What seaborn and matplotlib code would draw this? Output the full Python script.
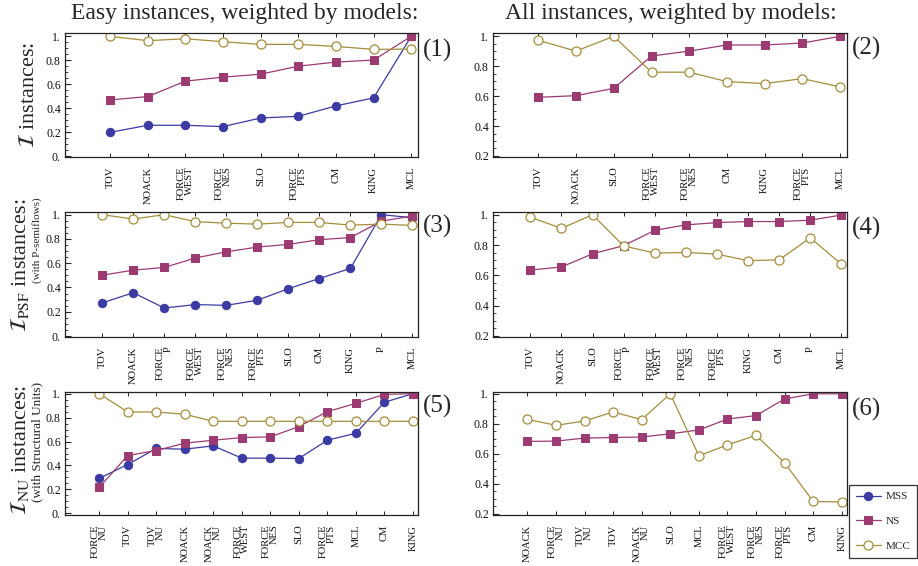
import numpy as np
import pandas as pd
import matplotlib
matplotlib.use('Agg')
import matplotlib.pyplot as plt
import seaborn as sns
from matplotlib.ticker import FixedLocator, FixedFormatter, MultipleLocator

# category order of every panel (as drawn on the x axis)
cats_1 = ['TOV', 'NOACK', 'FORCE\nWEST', 'FORCE\nNES', 'SLO', 'FORCE\nPTS', 'CM', 'KING', 'MCL']
cats_2 = ['TOV', 'NOACK', 'SLO', 'FORCE\nWEST', 'FORCE\nNES', 'CM', 'KING', 'FORCE\nPTS', 'MCL']
cats_3 = ['TOV', 'NOACK', 'FORCE\nP', 'FORCE\nWEST', 'FORCE\nNES', 'FORCE\nPTS', 'SLO', 'CM', 'KING', 'P', 'MCL']
cats_4 = ['TOV', 'NOACK', 'SLO', 'FORCE\nP', 'FORCE\nWEST', 'FORCE\nNES', 'FORCE\nPTS', 'KING', 'CM', 'P', 'MCL']
cats_5 = ['FORCE\nNU', 'TOV', 'TOV\nNU', 'NOACK', 'NOACK\nNU', 'FORCE\nWEST', 'FORCE\nNES', 'SLO',
          'FORCE\nPTS', 'MCL', 'CM', 'KING']
cats_6 = ['NOACK', 'FORCE\nNU', 'TOV\nNU', 'TOV', 'NOACK\nNU', 'SLO', 'MCL', 'FORCE\nWEST', 'FORCE\nNES',
          'FORCE\nPTS', 'CM', 'KING']

# panel 1: easy instances
mss_1 = [0.198, 0.257, 0.257, 0.246, 0.318, 0.332, 0.419, 0.486, 1.0]
ns_1 = [0.469, 0.497, 0.626, 0.659, 0.684, 0.751, 0.785, 0.802, 1.0]
mcc_1 = [1.0, 0.964, 0.98, 0.955, 0.933, 0.933, 0.916, 0.891, 0.894]

# panel 2: all instances (no MSS)
ns_2 = [0.592, 0.603, 0.652, 0.868, 0.901, 0.942, 0.942, 0.955, 1.0]
mcc_2 = [0.973, 0.901, 1.0, 0.76, 0.76, 0.697, 0.684, 0.717, 0.661]

# panel 3: easy PSF instances
mss_3 = [0.273, 0.357, 0.231, 0.259, 0.253, 0.295, 0.39, 0.474, 0.557, 1.0, 0.975]
ns_3 = [0.501, 0.543, 0.565, 0.643, 0.694, 0.733, 0.755, 0.794, 0.811, 0.947, 0.989]
mcc_3 = [1.0, 0.964, 1.0, 0.942, 0.93, 0.922, 0.936, 0.936, 0.914, 0.922, 0.911]

# panel 4: all PSF instances
ns_4 = [0.635, 0.655, 0.742, 0.796, 0.897, 0.933, 0.948, 0.955, 0.955, 0.964, 0.998]
mcc_4 = [0.984, 0.91, 1.0, 0.794, 0.747, 0.751, 0.74, 0.697, 0.702, 0.848, 0.673]

# panel 5: easy NU instances
mss_5 = [0.292, 0.408, 0.542, 0.536, 0.564, 0.461, 0.461, 0.458, 0.611, 0.669, 0.928, 1.0]
ns_5 = [0.217, 0.483, 0.525, 0.586, 0.611, 0.633, 0.639, 0.725, 0.85, 0.919, 0.994, 1.0]
mcc_5 = [1.0, 0.847, 0.847, 0.828, 0.769, 0.769, 0.769, 0.769, 0.769, 0.769, 0.769, 0.769]

# panel 6: all NU instances
ns_6 = [0.683, 0.685, 0.705, 0.709, 0.712, 0.734, 0.759, 0.832, 0.855, 0.966, 1.0, 1.0]
mcc_6 = [0.83, 0.79, 0.819, 0.879, 0.828, 1.0, 0.587, 0.66, 0.723, 0.54, 0.283, 0.28]

ticks_full = [0.0, 0.2, 0.4, 0.6, 0.8, 1.0]
ticklabels_full = ['0.', '0.2', '0.4', '0.6', '0.8', '1.']
ticks_part = [0.2, 0.4, 0.6, 0.8, 1.0]
ticklabels_part = ['0.2', '0.4', '0.6', '0.8', '1.']

sns.set_style('ticks')
plt.rcParams['font.family'] = ['Liberation Serif', 'DejaVu Serif']
plt.rcParams['mathtext.fontset'] = 'stix'

colors = {'MSS': '#3b3ba3', 'NS': '#9b3b72', 'MCC': '#a48e3c'}

W, H = 918, 566
fig = plt.figure(figsize=(W / 100, H / 100), dpi=100)


def box(l, r, t, b):
    return [l / W, 1 - b / H, (r - l) / W, (b - t) / H]


def draw_panel(rect, cats, series, ylim, yticks, yticklabels, tag, tag_y):
    ax = fig.add_axes(rect)
    x = np.arange(len(cats))
    for name, vals in series:
        df = pd.DataFrame({'x': x, 'y': vals})
        c = colors[name]
        if name == 'MSS':
            kw = dict(marker='o', markersize=6, markerfacecolor=c, markeredgecolor=c)
        elif name == 'NS':
            kw = dict(marker='s', markersize=5.5, markerfacecolor=c, markeredgecolor=c)
        else:
            kw = dict(marker='o', markersize=6.5, markerfacecolor='white', markeredgecolor=c,
                      markeredgewidth=0.9)
        sns.lineplot(data=df, x='x', y='y', color=c, linewidth=0.9, ax=ax, label=name, legend=False, **kw)
    ax.set_xlim(-1.2, len(cats) - 1 + 0.18)
    ax.set_ylim(*ylim)
    ax.set_xticks(x)
    ax.set_xticklabels(cats, rotation=90, fontsize=7.6, va='top', ha='center', color='#111111',
                       multialignment='right', linespacing=0.85)
    ax.yaxis.set_major_locator(FixedLocator(yticks))
    ax.yaxis.set_major_formatter(FixedFormatter(yticklabels))
    ax.yaxis.set_minor_locator(MultipleLocator(0.05))
    ax.tick_params(axis='y', which='major', direction='in', length=4, width=0.8, labelsize=8.5, pad=3,
                   labelcolor='#111111')
    ax.tick_params(axis='y', which='minor', direction='in', length=2, width=0.6)
    ax.tick_params(axis='x', direction='in', length=3, width=0.7, top=True, pad=7)
    ax.set_xlabel('')
    ax.set_ylabel('')
    for s in ax.spines.values():
        s.set_linewidth(0.9)
        s.set_color('#222222')
    fig.text((rect[0] + rect[2]) + 5 / W, 1 - tag_y / H, tag, fontsize=18, va='center', ha='left')
    return ax


ax1 = draw_panel(box(65, 418, 33, 157), cats_1, [('MSS', mss_1), ('NS', ns_1), ('MCC', mcc_1)],
                 (-0.008, 1.028), ticks_full, ticklabels_full, '(1)', 50)
ax2 = draw_panel(box(493, 847, 33, 157), cats_2, [('NS', ns_2), ('MCC', mcc_2)],
                 (0.193, 1.022), ticks_part, ticklabels_part, '(2)', 48)
ax3 = draw_panel(box(65, 418, 212, 337), cats_3, [('MSS', mss_3), ('NS', ns_3), ('MCC', mcc_3)],
                 (-0.008, 1.022), ticks_full, ticklabels_full, '(3)', 226)
ax4 = draw_panel(box(493, 847, 212, 337), cats_4, [('NS', ns_4), ('MCC', mcc_4)],
                 (0.193, 1.018), ticks_part, ticklabels_part, '(4)', 228)
ax5 = draw_panel(box(65, 418, 392, 515), cats_5, [('MSS', mss_5), ('NS', ns_5), ('MCC', mcc_5)],
                 (-0.014, 1.014), ticks_full, ticklabels_full, '(5)', 406)
ax6 = draw_panel(box(493, 847, 392, 515), cats_6, [('NS', ns_6), ('MCC', mcc_6)],
                 (0.193, 1.012), ticks_part, ticklabels_part, '(6)', 409)

# column titles
fig.text(245 / W, 1 - 13 / H, 'Easy instances, weighted by models:', fontsize=17, ha='center', va='center')
fig.text(671 / W, 1 - 13 / H, 'All instances, weighted by models:', fontsize=17, ha='center', va='center')

# row labels
fig.text(30 / W, 1 - 95 / H, r'$\mathcal{I}$ instances:', fontsize=16, rotation=90, ha='center', va='center')
fig.text(20 / W, 1 - 265 / H, r'$\mathcal{I}_{\mathrm{PSF}}$ instances:', fontsize=16, rotation=90,
         ha='center', va='center')
fig.text(37 / W, 1 - 240 / H, '(with P-semiflows)', fontsize=8, rotation=90, ha='center', va='center')
fig.text(20 / W, 1 - 450 / H, r'$\mathcal{I}_{\mathrm{NU}}$ instances:', fontsize=16, rotation=90,
         ha='center', va='center')
fig.text(37 / W, 1 - 442 / H, '(with Structural Units)', fontsize=9.5, rotation=90, ha='center', va='center')

# shared legend at the bottom right corner
handles, labels = ax1.get_legend_handles_labels()
leg = fig.legend(handles, labels, loc='upper left', bbox_to_anchor=(849 / W, 1 - 485 / H),
                 fontsize=8, frameon=True, fancybox=False, edgecolor='black', labelspacing=1.35,
                 handlelength=2.3, handletextpad=0.4, borderpad=0.6, borderaxespad=0)
leg.get_frame().set_linewidth(0.9)

fig.savefig('out.png', dpi=100)
